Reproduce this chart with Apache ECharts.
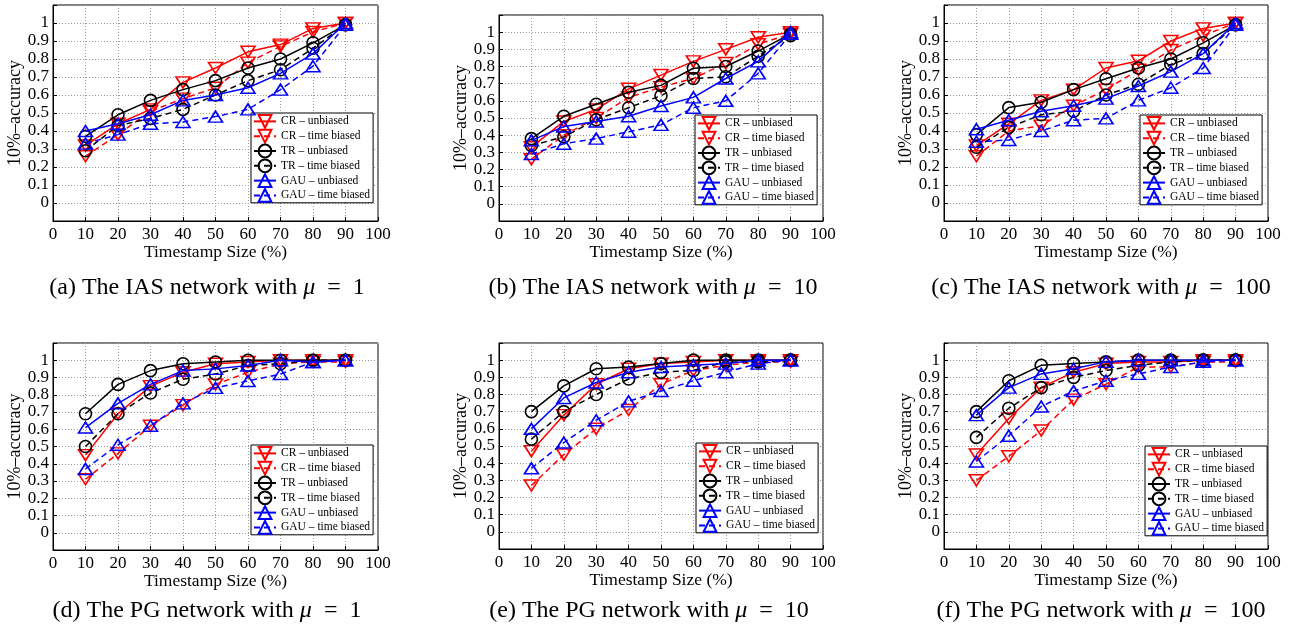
<!DOCTYPE html>
<html>
<head>
<meta charset="utf-8">
<script src="https://cdn.jsdelivr.net/npm/echarts@6/dist/echarts.min.js"></script>
<style>
html,body{margin:0;padding:0;background:#fff;}
#chart{width:1293px;height:629px;}
</style>
</head>
<body>
<div id="chart"></div>
<script>
// ---- data ----
const xValues = [10, 20, 30, 40, 50, 60, 70, 80, 90];
const seriesNames = ['CR – unbiased', 'CR – time biased', 'TR – unbiased', 'TR – time biased', 'GAU – unbiased', 'GAU – time biased'];
const captions = [
  '(a) The IAS network with {i|μ}  =  1',
  '(b) The IAS network with {i|μ}  =  10',
  '(c) The IAS network with {i|μ}  =  100',
  '(d) The PG network with {i|μ}  =  1',
  '(e) The PG network with {i|μ}  =  10',
  '(f) The PG network with {i|μ}  =  100'
];
const xAxisTitle = 'Timestamp Size (%)';
const yAxisTitle = '10%–accuracy';

// (a) IAS, mu = 1
const a_CR_unbiased   = [0.32, 0.44, 0.52, 0.67, 0.75, 0.84, 0.88, 0.97, 1.00];
const a_CR_biased     = [0.26, 0.38, 0.51, 0.58, 0.64, 0.78, 0.87, 0.95, 1.00];
const a_TR_unbiased   = [0.37, 0.49, 0.57, 0.63, 0.68, 0.75, 0.80, 0.89, 0.99];
const a_TR_biased     = [0.29, 0.43, 0.47, 0.52, 0.60, 0.68, 0.74, 0.86, 0.99];
const a_GAU_unbiased  = [0.40, 0.44, 0.49, 0.57, 0.60, 0.64, 0.72, 0.83, 1.00];
const a_GAU_biased    = [0.33, 0.38, 0.44, 0.45, 0.48, 0.52, 0.63, 0.76, 0.99];
// (b) IAS, mu = 10
const b_CR_unbiased   = [0.33, 0.48, 0.55, 0.67, 0.75, 0.83, 0.90, 0.97, 1.00];
const b_CR_biased     = [0.26, 0.40, 0.50, 0.62, 0.68, 0.73, 0.82, 0.93, 0.99];
const b_TR_unbiased   = [0.38, 0.51, 0.58, 0.65, 0.69, 0.79, 0.80, 0.89, 0.99];
const b_TR_biased     = [0.34, 0.39, 0.49, 0.56, 0.63, 0.73, 0.74, 0.86, 0.98];
const b_GAU_unbiased  = [0.37, 0.45, 0.48, 0.51, 0.57, 0.62, 0.73, 0.83, 1.00];
const b_GAU_biased    = [0.29, 0.35, 0.38, 0.42, 0.46, 0.56, 0.60, 0.76, 0.99];
// (c) IAS, mu = 100
const c_CR_unbiased   = [0.32, 0.44, 0.57, 0.63, 0.75, 0.79, 0.90, 0.97, 1.00];
const c_CR_biased     = [0.26, 0.40, 0.43, 0.54, 0.63, 0.74, 0.85, 0.93, 1.00];
const c_TR_unbiased   = [0.38, 0.53, 0.56, 0.63, 0.69, 0.75, 0.80, 0.89, 0.99];
const c_TR_biased     = [0.31, 0.42, 0.49, 0.51, 0.60, 0.66, 0.77, 0.83, 0.99];
const c_GAU_unbiased  = [0.41, 0.46, 0.51, 0.54, 0.58, 0.65, 0.73, 0.83, 1.00];
const c_GAU_biased    = [0.34, 0.35, 0.40, 0.46, 0.47, 0.57, 0.64, 0.75, 0.99];
// (d) PG, mu = 1
const d_CR_unbiased   = [0.45, 0.69, 0.85, 0.93, 0.98, 0.99, 1.00, 1.00, 1.00];
const d_CR_biased     = [0.31, 0.46, 0.62, 0.74, 0.86, 0.93, 0.98, 0.99, 0.99];
const d_TR_unbiased   = [0.69, 0.86, 0.94, 0.98, 0.99, 1.00, 1.00, 1.00, 1.00];
const d_TR_biased     = [0.50, 0.69, 0.81, 0.89, 0.92, 0.97, 0.98, 1.00, 1.00];
const d_GAU_unbiased  = [0.61, 0.75, 0.86, 0.94, 0.95, 0.97, 1.00, 0.99, 1.00];
const d_GAU_biased    = [0.37, 0.51, 0.62, 0.75, 0.84, 0.88, 0.92, 0.99, 1.00];
// (e) PG, mu = 10
const e_CR_unbiased   = [0.47, 0.68, 0.86, 0.95, 0.98, 0.99, 1.00, 1.00, 1.00];
const e_CR_biased     = [0.27, 0.45, 0.60, 0.71, 0.86, 0.94, 0.97, 0.99, 0.99];
const e_TR_unbiased   = [0.70, 0.85, 0.95, 0.96, 0.98, 1.00, 1.00, 1.00, 1.00];
const e_TR_biased     = [0.54, 0.70, 0.80, 0.89, 0.93, 0.94, 0.99, 0.99, 1.00];
const e_GAU_unbiased  = [0.60, 0.78, 0.87, 0.93, 0.96, 0.97, 0.98, 1.00, 1.00];
const e_GAU_biased    = [0.37, 0.52, 0.65, 0.76, 0.82, 0.88, 0.93, 0.98, 1.00];
// (f) PG, mu = 100
const f_CR_unbiased   = [0.45, 0.66, 0.84, 0.93, 0.98, 0.99, 0.99, 1.00, 1.00];
const f_CR_biased     = [0.30, 0.44, 0.59, 0.77, 0.86, 0.96, 0.96, 0.99, 0.99];
const f_TR_unbiased   = [0.70, 0.88, 0.97, 0.98, 0.99, 1.00, 1.00, 1.00, 1.00];
const f_TR_biased     = [0.55, 0.72, 0.84, 0.90, 0.94, 0.97, 0.99, 1.00, 1.00];
const f_GAU_unbiased  = [0.68, 0.84, 0.92, 0.95, 0.99, 1.00, 1.00, 1.00, 1.00];
const f_GAU_biased    = [0.41, 0.56, 0.73, 0.82, 0.88, 0.92, 0.96, 0.99, 1.00];

const panels = [
  [a_CR_unbiased, a_CR_biased, a_TR_unbiased, a_TR_biased, a_GAU_unbiased, a_GAU_biased],
  [b_CR_unbiased, b_CR_biased, b_TR_unbiased, b_TR_biased, b_GAU_unbiased, b_GAU_biased],
  [c_CR_unbiased, c_CR_biased, c_TR_unbiased, c_TR_biased, c_GAU_unbiased, c_GAU_biased],
  [d_CR_unbiased, d_CR_biased, d_TR_unbiased, d_TR_biased, d_GAU_unbiased, d_GAU_biased],
  [e_CR_unbiased, e_CR_biased, e_TR_unbiased, e_TR_biased, e_GAU_unbiased, e_GAU_biased],
  [f_CR_unbiased, f_CR_biased, f_TR_unbiased, f_TR_biased, f_GAU_unbiased, f_GAU_biased]
];

// ---- layout / style ----
const FONT = '"Liberation Serif", "Times New Roman", serif';
const gridBoxes = [
  {left: 53,  top: 5,   width: 325, height: 216},
  {left: 499, top: 15,  width: 324, height: 206},
  {left: 944, top: 5,   width: 324, height: 216},
  {left: 53,  top: 343, width: 325, height: 207},
  {left: 499, top: 343, width: 324, height: 206},
  {left: 944, top: 343, width: 324, height: 206}
];
const yNameGaps = [27, 28, 22, 27, 28, 22];
const legendPos = [
  {left: 251, top: 113}, {left: 695, top: 115}, {left: 1140, top: 115},
  {left: 251, top: 445}, {left: 696, top: 443}, {left: 1145, top: 446}
];
const captionPos = [
  {x: 207, y: 276}, {x: 653, y: 276}, {x: 1101, y: 276},
  {x: 207, y: 599}, {x: 649, y: 599}, {x: 1101, y: 599}
];
const styles = [
  {color: '#ff0000', symbol: 'triangle', rotate: 180, size: [14, 11], dash: 'solid'},
  {color: '#ff0000', symbol: 'triangle', rotate: 180, size: [14, 11], dash: [6, 4]},
  {color: '#000000', symbol: 'circle', rotate: 0, size: 12, dash: 'solid'},
  {color: '#000000', symbol: 'circle', rotate: 0, size: 12, dash: [6, 4]},
  {color: '#0000ff', symbol: 'triangle', rotate: 0, size: [14, 11], dash: 'solid'},
  {color: '#0000ff', symbol: 'triangle', rotate: 0, size: [14, 11], dash: [6, 4]}
];

const grid = [], xAxis = [], yAxis = [], series = [], legend = [], title = [];
gridBoxes.forEach((g, p) => {
  grid.push(Object.assign({show: true, borderColor: '#000', borderWidth: 1, backgroundColor: 'transparent'}, g));
  xAxis.push({
    type: 'value', gridIndex: p, min: 0, max: 100, interval: 10,
    name: xAxisTitle, nameLocation: 'middle', nameGap: 15,
    nameTextStyle: {fontFamily: FONT, fontSize: 17.5, color: '#000'},
    axisLine: {show: true, onZero: false, lineStyle: {color: '#000', width: 1}},
    axisTick: {show: true, inside: true, length: 4, lineStyle: {color: '#000'}},
    axisLabel: {fontFamily: FONT, fontSize: 17, color: '#000', margin: 5, hideOverlap: false},
    splitLine: {show: true, lineStyle: {color: '#9a9a9a', type: [1, 2], width: 1}}
  });
  yAxis.push({
    type: 'value', gridIndex: p, min: -0.1, max: 1.1, interval: 0.1,
    name: yAxisTitle, nameLocation: 'middle', nameGap: yNameGaps[p], nameRotate: 90,
    nameTextStyle: {fontFamily: FONT, fontSize: 18, color: '#000'},
    axisLine: {show: true, onZero: false, lineStyle: {color: '#000', width: 1}},
    axisTick: {show: true, inside: true, length: 4, lineStyle: {color: '#000'}},
    axisLabel: {
      fontFamily: FONT, fontSize: 17, color: '#000', margin: 4, showMinLabel: true, showMaxLabel: true,
      formatter: v => (v < -0.05 || v > 1.05) ? '' : String(Math.round(v * 10) / 10)
    },
    splitLine: {show: true, lineStyle: {color: '#9a9a9a', type: [1, 2], width: 1}}
  });
  panels[p].forEach((vals, s) => {
    const st = styles[s];
    series.push({
      type: 'line', name: seriesNames[s], xAxisIndex: p, yAxisIndex: p,
      data: xValues.map((x, i) => [x, vals[i]]),
      symbol: st.symbol, symbolSize: st.size, symbolRotate: st.rotate,
      showSymbol: true, showAllSymbol: true,
      lineStyle: {color: st.color, width: 1.5, type: st.dash},
      itemStyle: {color: 'rgba(255,255,255,0)', borderColor: st.color, borderWidth: 1.6},
      emphasis: {disabled: true},
      z: 2 + s
    });
  });
  legend.push({
    data: seriesNames, orient: 'vertical', left: legendPos[p].left, top: legendPos[p].top,
    padding: [1, 3, 0, 2], itemGap: 0, itemWidth: 22, itemHeight: 16, itemTextGap: 2,
    backgroundColor: '#fff', borderColor: '#000', borderWidth: 1, borderRadius: 0,
    selectedMode: false,
    textStyle: {fontFamily: FONT, fontSize: 11.5, color: '#000', lineHeight: 12}
  });
  title.push({
    text: captions[p], left: captionPos[p].x, top: captionPos[p].y, textAlign: 'center', padding: 0,
    textStyle: {
      fontFamily: FONT, fontSize: 24, fontWeight: 'normal', color: '#000',
      rich: {i: {fontFamily: FONT, fontSize: 24, fontStyle: 'italic', color: '#000'}}
    }
  });
});

const chart = echarts.init(document.getElementById('chart'), null, {renderer: 'canvas'});
chart.setOption({
  animation: false,
  backgroundColor: '#fff',
  title, grid, xAxis, yAxis, legend, series
});
</script>
</body>
</html>
